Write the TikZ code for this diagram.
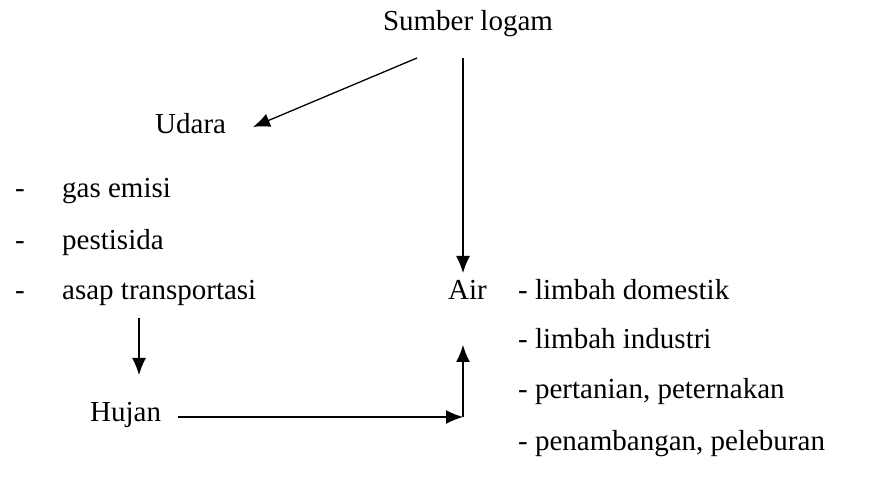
\documentclass[tikz,border=0pt]{standalone}
\usepackage{fontspec}
\setmainfont{Liberation Serif}
\usetikzlibrary{arrows.meta}
\begin{document}
\begin{tikzpicture}[x=1pt,y=-1pt,
  lbl/.style={inner sep=0pt,anchor=base west,font=\fontsize{29}{34}\selectfont},
  arr/.style={line width=1.3pt,-{Latex[length=17pt,width=14pt]}}]
\useasboundingbox (0,0) rectangle (884,486);

% sources
\node[lbl,anchor=base] (sumber) at (468,31) {Sumber logam};
\node[lbl] (udara) at (155,134) {Udara};
\node[lbl] (air) at (448,300) {Air};
\node[lbl] (hujan) at (90,421) {Hujan};

% air-borne items
\node[lbl] (d1) at (15,198) {-};
\node[lbl] (u1) at (62,198) {gas emisi};
\node[lbl] (d2) at (15,250) {-};
\node[lbl] (u2) at (62,250) {pestisida};
\node[lbl] (d3) at (15,300) {-};
\node[lbl] (u3) at (62,300) {asap transportasi};

% water-borne items
\node[lbl] (w1) at (518,300) {- limbah domestik};
\node[lbl] (w2) at (518,349) {- limbah industri};
\node[lbl] (w3) at (518,399) {- pertanian, peternakan};
\node[lbl] (w4) at (518,450) {- penambangan, peleburan};

% connector end points
\coordinate (s1) at (417,58);
\coordinate (s2) at (463,58);
\coordinate (ut) at (253,127);
\coordinate (at) at (463,273);
\coordinate (ab) at (463,345);
\coordinate (t0) at (139,318);
\coordinate (t1) at (139,375);
\coordinate (h0) at (178,417);
\coordinate (corner) at (463,417);

\draw[arr] (s1) -- (ut);
\draw[arr] (s2) -- (at);
\draw[arr] (t0) -- (t1);
\draw[arr] (h0) -- (corner);
\draw[arr] (corner) -- (ab);
\end{tikzpicture}
\end{document}
